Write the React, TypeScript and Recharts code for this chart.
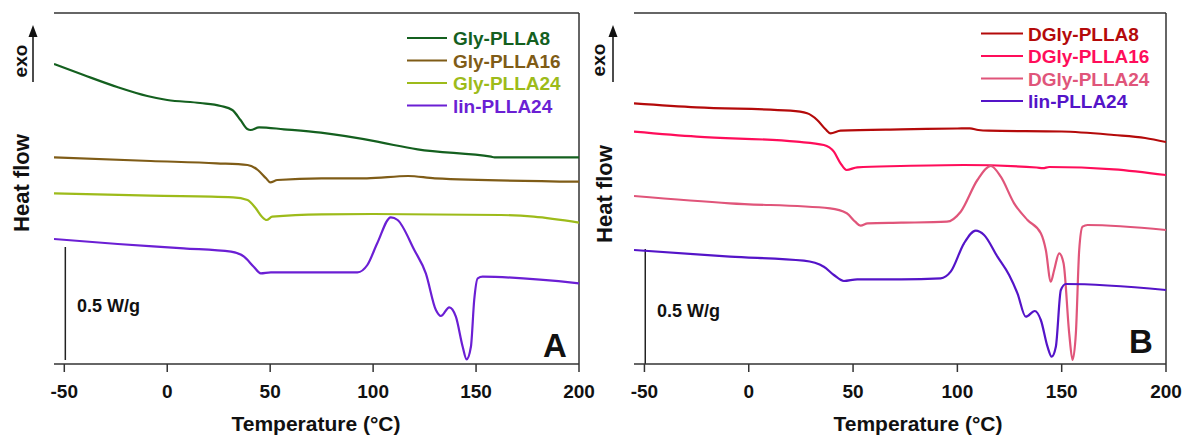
import React from "react";
import { LineChart, Line, XAxis, YAxis, ReferenceLine } from "recharts";

// DSC traces, [temperature °C, heat flow (arbitrary offset units, exo up)]
const glyPLLA8: [number, number][] = [
  [-55, 300], [-40.6, 289], [-24.3, 277], [-9.7, 268], [0, 264], [16, 261], [26, 258],
  [31.6, 254], [35.6, 244], [38.9, 235], [40.5, 234], [44.6, 236.7], [56.7, 234.7],
  [74.6, 231.3], [102, 222.3], [110, 219], [121.6, 214.7], [157.3, 207.3], [159, 206.7], [200, 206.7],
];
const glyPLLA16: [number, number][] = [
  [-55, 206.7], [-8, 203], [24, 200.7], [39, 199], [44, 194], [48, 185.7], [50, 181.7],
  [53.5, 184], [75, 185.7], [97, 185.7], [117, 188], [130, 185.7], [200, 182.3],
];
const glyPLLA24: [number, number][] = [
  [-55, 170.7], [-8, 168.3], [32, 166.7], [39, 164], [43, 155.7], [46, 147.3], [48.3, 144],
  [51, 147.3], [75, 149.7], [100, 150], [162, 149], [178, 147.3], [200, 141.3],
];
const linPLLA24A: [number, number][] = [
  [-55, 125], [-24, 120], [8, 115.7], [31, 112.3], [37.3, 107.3], [42, 97.3], [45.4, 90.7],
  [50.3, 91.7], [75, 91.7], [92.4, 91.7], [97.2, 99], [102, 120.7], [108.6, 146.7],
  [111.9, 144], [120, 114], [125.6, 90.7], [130.5, 54], [132.9, 48], [137, 56.7],
  [140.2, 47.3], [143.5, 17.3], [145.4, 4.7], [147.5, 17.3], [149.1, 64], [150.8, 85.7],
  [153.2, 87.3], [200, 80.7],
];

const dglyPLLA8: [number, number][] = [
  [-55, 260.7], [-25, 256.7], [20, 253.3], [28, 250.7], [32.8, 244], [36.8, 234.7],
  [39.2, 230.7], [44, 233.3], [72.8, 234.7], [100, 235.5], [106, 235.7], [110, 234],
  [115, 233.3], [150, 232.5], [175, 229], [190, 226], [200, 222],
];
const dglyPLLA16: [number, number][] = [
  [-55, 232.3], [-25, 227.3], [23, 222.3], [36, 219], [40.8, 212.3], [44, 200.7],
  [46.9, 194], [52, 196.7], [72.8, 198], [103, 199], [138, 196.5], [141, 195.8], [144, 197],
  [175, 194.7], [200, 189],
];
const dglyPLLA24: [number, number][] = [
  [-55, 168], [-9, 160.7], [39, 155.7], [47, 150.7], [51, 142.3], [53.6, 138.3], [57, 140.7],
  [73, 141.3], [95, 142.3], [101.6, 152.3], [109.6, 184], [116, 198], [120.8, 187.3],
  [127.2, 160.7], [133.6, 144], [140, 130.7], [142.4, 114], [144.8, 82.3], [146.4, 94],
  [148.8, 110.7], [150.9, 100.7], [153.6, 30.7], [155.2, 4], [156.8, 30.7], [158.4, 114],
  [160, 137.3], [162.4, 139], [200, 134],
];
const linPLLA24B: [number, number][] = [
  [-55, 114], [-9, 107.3], [26.4, 103.3], [36, 97.3], [40.8, 89], [45.6, 83], [52, 84.7],
  [73, 84.7], [92, 85.7], [96.8, 92.3], [103.2, 120.7], [108.8, 133.3], [112.8, 129],
  [119.2, 107.3], [124.8, 89], [128.8, 70.7], [132.8, 47.3], [137.1, 53], [140, 44],
  [143.2, 17.3], [145.2, 7.3], [147.2, 17.3], [149.6, 74], [152, 80], [200, 74],
];

const xTicks = [-50, 0, 50, 100, 150, 200];
const xDomain: [number, number] = [-55, 200];
const yDomain: [number, number] = [0, 351];

const seriesA = [
  { name: "Gly-PLLA8", color: "#14601f", pts: glyPLLA8 },
  { name: "Gly-PLLA16", color: "#7f5c17", pts: glyPLLA16 },
  { name: "Gly-PLLA24", color: "#9dbb1a", pts: glyPLLA24 },
  { name: "lin-PLLA24", color: "#6b1fd4", pts: linPLLA24A },
];
const seriesB = [
  { name: "DGly-PLLA8", color: "#b40a0a", pts: dglyPLLA8 },
  { name: "DGly-PLLA16", color: "#ff0d5a", pts: dglyPLLA16 },
  { name: "DGly-PLLA24", color: "#e0557a", pts: dglyPLLA24 },
  { name: "lin-PLLA24", color: "#5414c8", pts: linPLLA24B },
];

const FONT = "'Liberation Sans', Arial, sans-serif";
const BOX = "#333";

type Series = { name: string; color: string; pts: [number, number][] };

function Panel({ series, width, margin, bar }: {
  series: Series[];
  width: number;
  margin: { top: number; right: number; bottom: number; left: number };
  bar: { x: number; y0: number; y1: number };
}) {
  return (
    <LineChart width={width} height={436} margin={margin}>
      <XAxis
        type="number"
        dataKey="t"
        domain={xDomain}
        ticks={xTicks}
        allowDataOverflow
        height={30}
        tickSize={8}
        tickMargin={13}
        stroke={BOX}
        strokeWidth={1.5}
        tick={{ fontSize: 19, fontWeight: 700, fill: "#111", fontFamily: FONT }}
      />
      <YAxis type="number" domain={yDomain} allowDataOverflow width={0} tick={false} tickLine={false} stroke={BOX} strokeWidth={1.5} />
      {/* top and right sides of the plot frame */}
      <ReferenceLine y={yDomain[1]} stroke={BOX} strokeWidth={1.5} ifOverflow="visible" />
      <ReferenceLine x={xDomain[1]} stroke={BOX} strokeWidth={1.5} ifOverflow="visible" />
      {/* 0.5 W/g scale bar */}
      <ReferenceLine
        segment={[{ x: bar.x, y: bar.y0 }, { x: bar.x, y: bar.y1 }]}
        stroke="#222"
        strokeWidth={1.5}
      />
      {series.map((s) => (
        <Line
          key={s.name}
          data={s.pts.map(([t, v]) => ({ t, v }))}
          dataKey="v"
          type="monotone"
          stroke={s.color}
          strokeWidth={2.2}
          dot={false}
          activeDot={false}
          isAnimationActive={false}
        />
      ))}
    </LineChart>
  );
}

function Legend({ series, x0, x1, tx, rows }: { series: Series[]; x0: number; x1: number; tx: number; rows: number[] }) {
  return (
    <g>
      {series.map((s, i) => (
        <g key={s.name}>
          <line x1={x0} x2={x1} y1={rows[i]} y2={rows[i]} stroke={s.color} strokeWidth={2} />
          <text x={tx} y={rows[i] + 7} fill={s.color} fontSize={19} fontWeight={700} fontFamily={FONT}>
            {s.name}
          </text>
        </g>
      ))}
    </g>
  );
}

function Arrow({ x }: { x: number }) {
  return (
    <g>
      <line x1={x} x2={x} y1={82} y2={32} stroke="#111" strokeWidth={1.5} />
      <polygon points={`${x},25 ${x - 4.5},37 ${x + 4.5},37`} fill="#111" />
    </g>
  );
}

export default function App() {
  const txt = { fontFamily: FONT, fontWeight: 700, fill: "#111" } as const;
  return (
    <div style={{ position: "absolute", left: 0, top: 0, width: 1184, height: 436, background: "#fff", overflow: "hidden" }}>
      <div style={{ position: "absolute", left: 0, top: 0 }}>
        <Panel series={seriesA} width={600} margin={{ top: 13, right: 21, bottom: 42, left: 54 }} bar={{ x: -49.5, y0: 4, y1: 117 }} />
      </div>
      <div style={{ position: "absolute", left: 590, top: 0 }}>
        <Panel series={seriesB} width={594} margin={{ top: 13, right: 18, bottom: 42, left: 44 }} bar={{ x: -49.6, y0: 0, y1: 115 }} />
      </div>
      <svg width={1184} height={436} style={{ position: "absolute", left: 0, top: 0, pointerEvents: "none" }}>
        <Legend series={seriesA} x0={407} x1={447} tx={453} rows={[38, 60.5, 83, 105.5]} />
        <Legend series={seriesB} x0={981} x1={1023} tx={1028} rows={[33.5, 56, 78.5, 101]} />

        <text {...txt} fontSize={19} transform="translate(20,61) rotate(-90)" textAnchor="middle" dominantBaseline="central">exo</text>
        <text {...txt} fontSize={19} transform="translate(598,60) rotate(-90)" textAnchor="middle" dominantBaseline="central">exo</text>
        <Arrow x={33} />
        <Arrow x={613} />

        <text {...txt} fontSize={22} transform="translate(21,183) rotate(-90)" textAnchor="middle" dominantBaseline="central">Heat flow</text>
        <text {...txt} fontSize={22} transform="translate(604,194) rotate(-90)" textAnchor="middle" dominantBaseline="central">Heat flow</text>

        <text {...txt} fontSize={21} x={316} y={431} textAnchor="middle">Temperature (°C)</text>
        <text {...txt} fontSize={21} x={918} y={431} textAnchor="middle">Temperature (°C)</text>

        <text {...txt} fontSize={18} x={77} y={311.5}>0.5 W/g</text>
        <text {...txt} fontSize={18} x={657} y={316.5}>0.5 W/g</text>

        <text {...txt} fontSize={33} x={543} y={357}>A</text>
        <text {...txt} fontSize={33} x={1129} y={353}>B</text>
      </svg>
    </div>
  );
}
